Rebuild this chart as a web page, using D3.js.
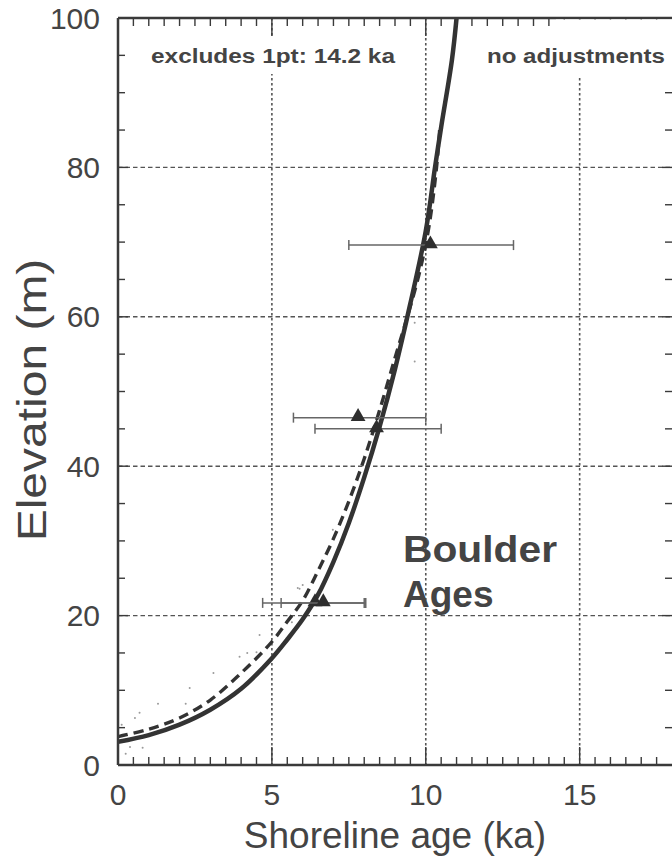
<!DOCTYPE html>
<html><head><meta charset="utf-8">
<script src="https://cdn.jsdelivr.net/npm/d3@7"></script>
<style>html,body{margin:0;padding:0;background:#fff;} svg{display:block;font-family:"Liberation Sans",Arial,Helvetica,sans-serif;}</style>
</head><body><svg id="c" width="672" height="858"></svg>
<script>
// ---- data ----
const xTickValues = [0, 5, 10, 15];
const yTickValues = [0, 20, 40, 60, 80, 100];
const solidAge  = [0, 1, 2, 3, 4, 5, 5.5, 6, 6.5, 7, 7.5, 8, 8.5, 9, 9.5, 10, 10.3, 10.5, 10.85, 11.0];
const solidElev = [3.1, 4.0, 5.4, 7.4, 10.2, 14.3, 16.8, 19.5, 22.8, 27.2, 32.4, 38.5, 45.3, 53, 61.8, 71.5, 80, 85.4, 94.4, 100];
const dashedAge  = [0, 1, 2, 3, 4, 5, 5.5, 6, 6.5, 7, 7.5, 8, 8.5, 9, 9.4, 9.8, 10.1, 10.35, 10.45];
const dashedElev = [3.8, 4.8, 6.3, 8.7, 12.3, 16.5, 19.2, 22.0, 26.0, 30.3, 35.3, 41, 47.5, 54.5, 60, 66, 72, 80, 85];
const pointAge  = [10.15, 7.8, 8.4, 6.4, 6.67];
const pointElev = [69.6, 46.5, 45.0, 21.7, 21.7];
const pointMin  = [7.5, 5.7, 6.4, 4.7, 5.3];
const pointMax  = [12.85, 10.0, 10.5, 8.0, 8.05];
const scatterAge  = [0.39, 0.8, 0.55, 0.7, 1.3, 2.2, 0.12, 2.33, 3.1, 3.95, 4.2, 4.5, 4.6, 6.0, 5.9, 5.65, 6.98, 5.84, 9.64, 9.64, 0.25];
const scatterElev = [2.4, 2.3, 6.3, 7.0, 8.2, 8.2, 5.4, 10.3, 12.3, 14.5, 15.0, 15.1, 17.4, 24.1, 23.6, 19.1, 31.5, 23.7, 59.2, 54.0, 1.5];
const xTitle = "Shoreline age (ka)";
const yTitle = "Elevation (m)";
const noteLeft = "excludes 1pt: 14.2 ka";
const noteRight = "no adjustments";
const bigLabel = ["Boulder", "Ages"];

// ---- layout ----
const svg = d3.select("#c");
const L = 118, R = 672, T = 18, B = 765;
const x = d3.scaleLinear().domain([0, 18]).range([L, R]);
const y = d3.scaleLinear().domain([0, 100]).range([B, T]);
const ink = "#3a3a3a", txt = "#444";

svg.append("defs").append("clipPath").attr("id", "clip")
  .append("rect").attr("x", L).attr("y", T).attr("width", R - L).attr("height", B - T);

const plot = svg.append("g").attr("clip-path", "url(#clip)");

// grid
plot.selectAll(".vg").data(xTickValues.filter(d => d > 0)).enter().append("line")
  .attr("x1", d => x(d)).attr("x2", d => x(d)).attr("y1", T).attr("y2", B)
  .attr("stroke", "#555").attr("stroke-width", 1.6).attr("stroke-dasharray", "2.5,2.5");
plot.selectAll(".hg").data(yTickValues.filter(d => d > 0 && d < 100)).enter().append("line")
  .attr("x1", L).attr("x2", R).attr("y1", d => y(d)).attr("y2", d => y(d))
  .attr("stroke", "#555").attr("stroke-width", 1.4).attr("stroke-dasharray", "4.5,3");

// scatter cloud
plot.selectAll(".sc").data(scatterAge).enter().append("circle")
  .attr("cx", (d) => x(d)).attr("cy", (d, i) => y(scatterElev[i])).attr("r", 1)
  .attr("fill", "#9a9a9a");

// curves
const line = d3.line().x(d => x(d[0])).y(d => y(d[1])).curve(d3.curveCatmullRom);
plot.append("path").datum(dashedAge.map((a, i) => [a, dashedElev[i]]))
  .attr("d", line).attr("fill", "none").attr("stroke", "#333").attr("stroke-width", 3.4)
  .attr("stroke-dasharray", "10,6");
plot.append("path").datum(solidAge.map((a, i) => [a, solidElev[i]]))
  .attr("d", line).attr("fill", "none").attr("stroke", "#333").attr("stroke-width", 4.5);

// error bars
const eb = plot.selectAll(".eb").data(pointAge.map((a, i) => i)).enter().append("g");
eb.append("line").attr("x1", i => x(pointMin[i])).attr("x2", i => x(pointMax[i]))
  .attr("y1", i => y(pointElev[i])).attr("y2", i => y(pointElev[i]))
  .attr("stroke", "#666").attr("stroke-width", 1.5);
eb.append("line").attr("x1", i => x(pointMin[i])).attr("x2", i => x(pointMin[i]))
  .attr("y1", i => y(pointElev[i]) - 5).attr("y2", i => y(pointElev[i]) + 5)
  .attr("stroke", "#666").attr("stroke-width", 1.5);
eb.append("line").attr("x1", i => x(pointMax[i])).attr("x2", i => x(pointMax[i]))
  .attr("y1", i => y(pointElev[i]) - 5).attr("y2", i => y(pointElev[i]) + 5)
  .attr("stroke", "#666").attr("stroke-width", 1.5);
const tri = d3.symbol().type(d3.symbolTriangle).size(95);
eb.append("path").attr("d", tri)
  .attr("transform", i => `translate(${x(pointAge[i])},${y(pointElev[i]) - 1})`)
  .attr("fill", "#2e2e2e");

// axes lines
svg.append("line").attr("x1", L).attr("x2", R).attr("y1", B).attr("y2", B).attr("stroke", ink).attr("stroke-width", 2.5);
svg.append("line").attr("x1", L).attr("x2", R).attr("y1", T).attr("y2", T).attr("stroke", ink).attr("stroke-width", 2.5);
svg.append("line").attr("x1", L).attr("x2", L).attr("y1", T).attr("y2", B).attr("stroke", ink).attr("stroke-width", 2.5);

// ticks
const xMinor = d3.range(0.5, 18, 0.5);
svg.selectAll(".bt").data(xMinor).enter().append("line")
  .attr("x1", d => x(d)).attr("x2", d => x(d)).attr("y1", B)
  .attr("y2", d => B - (d % 5 === 0 ? 18 : 8)).attr("stroke", ink).attr("stroke-width", 1.4);
svg.selectAll(".tt").data(xMinor).enter().append("line")
  .attr("x1", d => x(d)).attr("x2", d => x(d)).attr("y1", T)
  .attr("y2", d => T + (d % 5 === 0 ? 18 : 8)).attr("stroke", ink).attr("stroke-width", 1.4);
const yMinor = d3.range(5, 100, 5);
svg.selectAll(".lt").data(yMinor).enter().append("line")
  .attr("x1", L).attr("x2", d => L + (d % 20 === 0 ? 10 : 7))
  .attr("y1", d => y(d)).attr("y2", d => y(d)).attr("stroke", ink).attr("stroke-width", 1.4);
svg.selectAll(".rt").data(yMinor).enter().append("line")
  .attr("x1", R).attr("x2", d => R - (d % 20 === 0 ? 10 : 7))
  .attr("y1", d => y(d)).attr("y2", d => y(d)).attr("stroke", ink).attr("stroke-width", 1.4);

// white boxes behind notes (hide grid and ticks there)
svg.append("rect").attr("x", 140).attr("y", 36).attr("width", 268).attr("height", 38).attr("fill", "#fff");
svg.append("rect").attr("x", 476).attr("y", 28).attr("width", 196).attr("height", 50).attr("fill", "#fff");
svg.append("rect").attr("x", 556).attr("y", 19.5).attr("width", 116).attr("height", 10).attr("fill", "#fff");

// tick labels
svg.selectAll(".xl").data(xTickValues).enter().append("text")
  .attr("x", d => x(d)).attr("y", 805).attr("text-anchor", "middle")
  .attr("font-size", 30).attr("fill", txt).text(d => d);
svg.selectAll(".yl").data(yTickValues).enter().append("text")
  .attr("x", 100).attr("y", d => y(d) + 10.5).attr("text-anchor", "end")
  .attr("font-size", 30).attr("fill", txt).text(d => d);

// titles
svg.append("text").attr("x", 395).attr("y", 848).attr("text-anchor", "middle")
  .attr("font-size", 37).attr("fill", txt).text(xTitle);
svg.append("text").attr("transform", "translate(46,400) rotate(-90) scale(1.2,1)").attr("text-anchor", "middle")
  .attr("font-size", 40).attr("fill", txt).text(yTitle);

// notes
svg.append("text").attr("x", 151).attr("y", 63).attr("font-size", 20).attr("font-weight", "bold")
  .attr("fill", txt).attr("textLength", 244).attr("lengthAdjust", "spacingAndGlyphs").text(noteLeft);
svg.append("text").attr("x", 487).attr("y", 63).attr("font-size", 20).attr("font-weight", "bold")
  .attr("fill", txt).attr("textLength", 178).attr("lengthAdjust", "spacingAndGlyphs").text(noteRight);
svg.append("text").attr("x", 403).attr("y", 562).attr("font-size", 37).attr("font-weight", "bold")
  .attr("fill", txt).attr("textLength", 154).attr("lengthAdjust", "spacingAndGlyphs").text(bigLabel[0]);
svg.append("text").attr("x", 403).attr("y", 607).attr("font-size", 37).attr("font-weight", "bold")
  .attr("fill", txt).text(bigLabel[1]);
</script></body></html>
